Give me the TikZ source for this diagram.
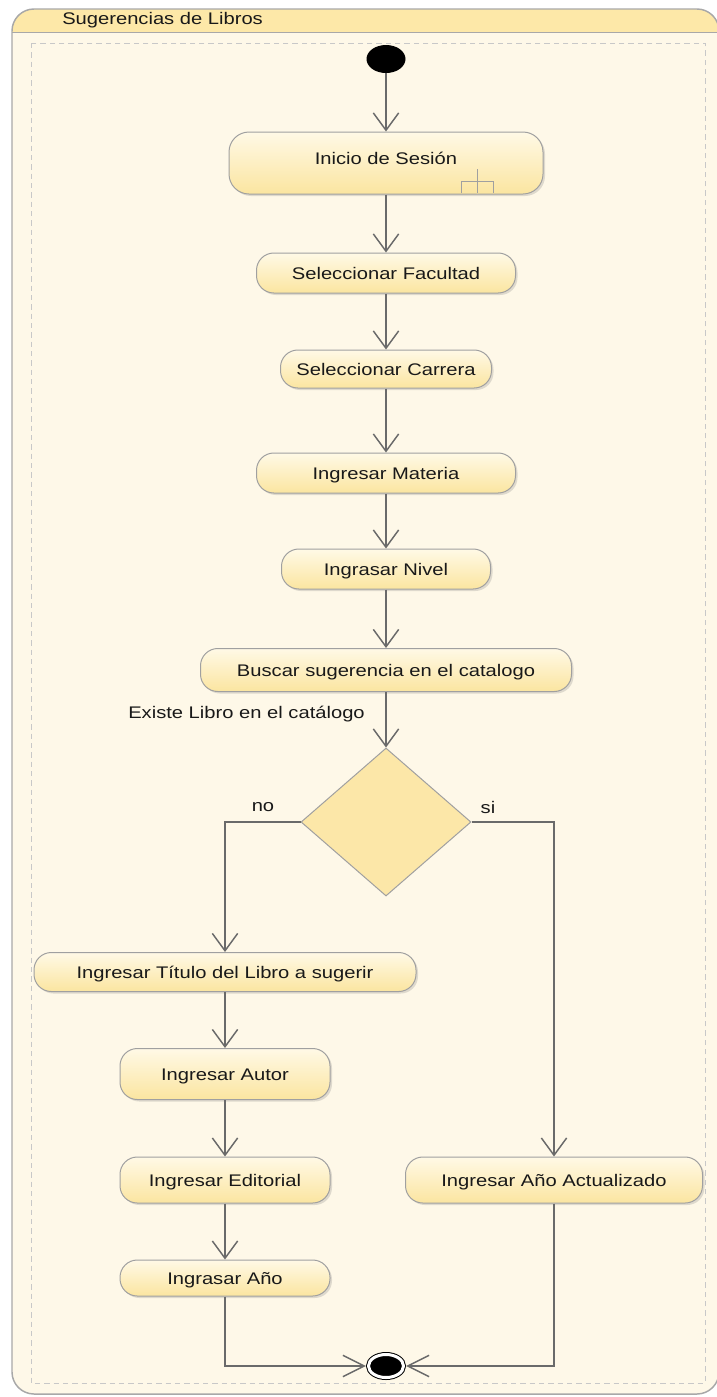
\documentclass[tikz,border=0pt]{standalone}
\usepackage{fontspec}
\usetikzlibrary{arrows.meta,shapes.geometric,shadows}
\newfontfamily\umlfont[FakeStretch=1.2]{Liberation Sans}
\newcommand{\umltext}{\umlfont\fontsize{12.6}{15}\selectfont}
\definecolor{framegray}{HTML}{A8A8A8}
\definecolor{bodyfill}{HTML}{FEF8E8}
\definecolor{headfill}{HTML}{FDE8A8}
\definecolor{nodetop}{HTML}{FFF9E6}
\definecolor{nodebottom}{HTML}{FBE5A0}
\definecolor{nodeborder}{HTML}{A0A0A0}
\definecolor{flowgray}{HTML}{6A6A6A}
\definecolor{dashgray}{HTML}{C8C8C8}
\definecolor{diamondfill}{HTML}{FCE7A8}
\tikzset{
  action/.style={draw=nodeborder, line width=0.75pt, rounded corners=13pt, top color=nodetop, bottom color=nodebottom,
    inner sep=0pt, font=\umltext, text=black!90, text height=9pt, text depth=0pt,
    drop shadow={shadow xshift=1.5pt, shadow yshift=-1.5pt, opacity=0.25}},
  flow/.style={draw=flowgray, line width=1.1pt, -{Straight Barb[length=13pt,width=19pt]}},
  guardtext/.style={font=\umltext, inner sep=0pt, text=black!90},
}
\begin{document}
\begin{tikzpicture}[x=0.75pt,y=0.75pt,yscale=-1,xscale=1]
    \useasboundingbox (0,0) rectangle (717,1397);

    %Shape: Frame
    \begin{scope}
      \clip[rounded corners=16.5pt] (12,9) rectangle (719,1394);
      \fill[bodyfill] (12,9) rectangle (719,1394);
      \fill[headfill] (12,9) rectangle (719,32);
    \end{scope}
    \draw[framegray, line width=1.1pt, rounded corners=16.5pt] (12,9) rectangle (719,1394);
    \draw[framegray, line width=0.75pt] (12,32) -- (719,32);
    \draw[dashgray, line width=0.75pt, dash pattern=on 4pt off 3pt] (31,43) rectangle (705,1383);
    % Text Node
    \node[guardtext, anchor=west] (frametitle) at (62,20) {Sugerencias de Libros};

    %Shape: Initial
    \node[ellipse, fill=black, minimum width=29.25pt, minimum height=21pt, inner sep=0pt] (start) at (386,59) {};

    %Shape: Actions
    \node[action, rounded corners=15pt, minimum width=235.5pt, minimum height=46.5pt, text depth=7.5pt] (inicio) at (386,163) {Inicio de Sesión};
    \node[action, minimum width=194.25pt, minimum height=30pt] (facultad) at (386,273) {Seleccionar Facultad};
    \node[action, minimum width=158.25pt, minimum height=28.5pt] (carrera) at (386,369) {Seleccionar Carrera};
    \node[action, minimum width=194.25pt, minimum height=30pt] (materia) at (386,473) {Ingresar Materia};
    \node[action, minimum width=156.75pt, minimum height=30pt] (nivel) at (386,569) {Ingrasar Nivel};
    \node[action, minimum width=278.25pt, minimum height=32.25pt] (buscar) at (386,670) {Buscar sugerencia en el catalogo};
    \node[action, minimum width=286.5pt, minimum height=29.25pt] (titulo) at (225,972) {Ingresar Título del Libro a sugerir};
    \node[action, minimum width=157.5pt, minimum height=38.25pt] (autor) at (225,1074) {Ingresar Autor};
    \node[action, minimum width=157.5pt, minimum height=34.5pt] (editorial) at (225,1180) {Ingresar Editorial};
    \node[action, minimum width=157.5pt, minimum height=27pt] (ano) at (225,1278) {Ingrasar Año};
    \node[action, minimum width=222.75pt, minimum height=34.5pt] (actualizado) at (554,1180) {Ingresar Año Actualizado};

    %Shape: Rake
    \draw[nodeborder, line width=0.75pt] (477,169) -- (477,193) (461,193) -- (461,181) -- (493,181) -- (493,193);

    %Shape: Decision
    \node[diamond, draw=nodeborder, fill=diamondfill, line width=0.75pt, minimum width=127.5pt, minimum height=111pt, inner sep=0pt] (decision) at (386,822) {};

    %Shape: Final
    \node[ellipse, draw=black, double=white, double distance=2.25pt, line width=0.75pt, fill=black, minimum width=26.25pt, minimum height=17.25pt, inner sep=0pt, outer sep=2pt] (final) at (386,1366) {};

    %Straight Lines
    \draw[flow] (start) -- (inicio);
    \draw[flow] (inicio) -- (facultad);
    \draw[flow] (facultad) -- (carrera);
    \draw[flow] (carrera) -- (materia);
    \draw[flow] (materia) -- (nivel);
    \draw[flow] (nivel) -- (buscar);
    \draw[flow] (buscar) -- (decision);
    \draw[flow] (decision.west) -| (titulo.north);
    \draw[flow] (decision.east) -| (actualizado.north);
    \draw[flow] (titulo) -- (autor);
    \draw[flow] (autor) -- (editorial);
    \draw[flow] (editorial) -- (ano);
    \draw[flow, -{Straight Barb[length=16pt,width=16pt]}] (ano.south) |- (final.west);
    \draw[flow, -{Straight Barb[length=16pt,width=16pt]}] (actualizado.south) |- (final.east);

    % Text Node
    \node[guardtext, anchor=west] (guard) at (128,714) {Existe Libro en el catálogo};
    % Text Node
    \node[guardtext] (nolabel) at (263,807) {no};
    % Text Node
    \node[guardtext] (silabel) at (488,807) {si};

\end{tikzpicture}
\end{document}
